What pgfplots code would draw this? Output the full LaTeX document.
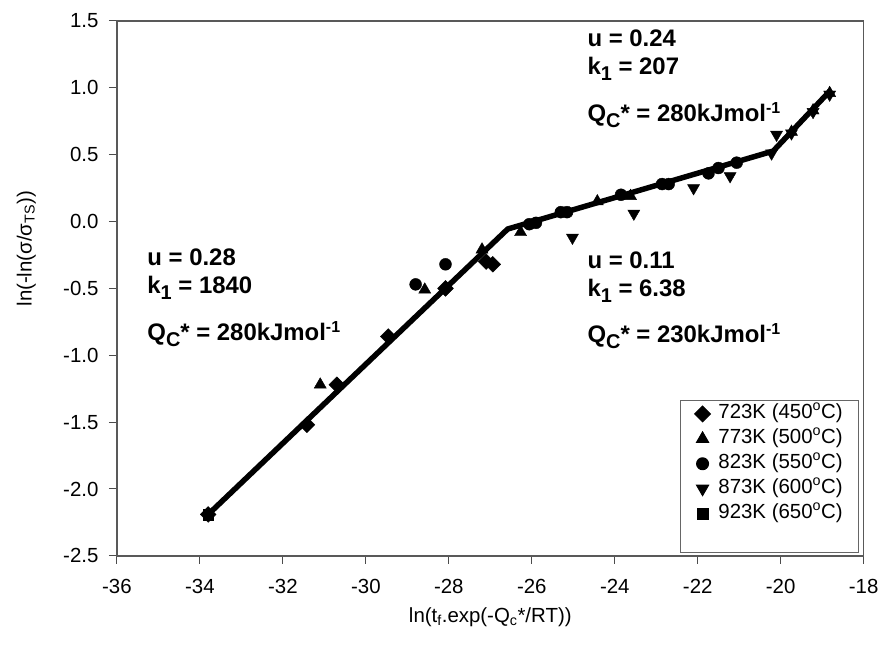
\documentclass[border=0pt]{standalone}
\usepackage{fontspec}
\setmainfont{Liberation Sans}
\usepackage{pgfplots}
\pgfplotsset{compat=1.18}
\pgfplotsset{/pgf/number format/assume math mode=true}
\newcommand{\bsub}[1]{\raisebox{-6pt}{\fontsize{20}{20}\selectfont #1}}
\newcommand{\bsup}[1]{\raisebox{8pt}{\fontsize{16}{16}\selectfont #1}}

\begin{document}
\begin{tikzpicture}
\path[use as bounding box] (-117.4pt,-93pt) rectangle (766pt,558pt);
\begin{axis}[
    at={(0pt,0pt)}, anchor=south west,
    scale only axis, width=749.6pt, height=537pt,
    xmin=-36, xmax=-18, ymin=-2.5, ymax=1.5,
    xtick={-36,-34,...,-18},
    ytick={-2.5,-2,...,1.5},
    tick pos=left, tick align=outside,
    major tick length=8pt,
    tick style={black!70, line width=1pt},
    axis line style={black!65, line width=1.3pt},
    ticklabel style={font=\fontsize{20.5}{22}\selectfont, inner sep=0pt},
    yticklabel style={/pgf/number format/.cd, fixed, fixed zerofill, precision=1,
        /tikz/.cd, xshift=-10.4pt},
    xticklabel style={/pgf/number format/.cd, fixed, /tikz/.cd, yshift=-15pt},
    xlabel={ln(t\textsubscript{f}.exp(-Q\textsubscript{c}*/RT))},
    ylabel={ln(-ln(σ/σ\textsubscript{TS}))},
    label style={font=\fontsize{20.5}{22}\selectfont},
    xlabel style={at={(axis description cs:0.5,-0.115)}, anchor=center},
    ylabel style={at={(axis description cs:-0.1214,0.574)}, anchor=center},
    legend style={at={(axis cs:-18.11,-2.478)}, anchor=south east,
        draw=black!60, line width=1pt, font=\fontsize{20.5}{22}\selectfont,
        row sep=4pt, inner xsep=14pt, inner ysep=3.5pt,
        nodes={inner sep=2pt, text height=13pt, text depth=4pt},
        /tikz/every odd column/.append style={column sep=6pt}},
    legend cell align=left,
]
% 723 K
\addplot[only marks, black, mark=square*, mark size=5.6pt, mark options={fill=black, rotate=45}]
    coordinates {(-33.80,-2.19) (-31.42,-1.52) (-30.70,-1.22) (-29.46,-0.86)
                 (-28.08,-0.50) (-26.94,-0.32) (-27.10,-0.30)};
\addlegendentry{723K (450\textsuperscript{o}C)}
% 773 K
\addplot[only marks, black, mark=triangle*, mark size=7pt, mark options={fill=black}]
    coordinates {(-31.10,-1.22) (-28.58,-0.51) (-27.20,-0.21) (-26.27,-0.08)
                 (-24.42,0.15) (-23.62,0.19) (-19.74,0.67) (-19.22,0.83) (-18.82,0.96)};
\addlegendentry{773K (500\textsuperscript{o}C)}
% 823 K
\addplot[only marks, black, mark=*, mark size=6pt, mark options={fill=black}]
    coordinates {(-28.80,-0.47) (-28.08,-0.32) (-26.06,-0.02) (-25.90,-0.01)
                 (-25.30,0.07) (-25.15,0.07) (-23.85,0.20) (-22.86,0.28) (-22.70,0.28)
                 (-21.74,0.36) (-21.50,0.40) (-21.06,0.44)};
\addlegendentry{823K (550\textsuperscript{o}C)}
% 873 K
\addplot[only marks, black, mark=triangle*, mark size=7pt, mark options={fill=black, rotate=180}]
    coordinates {(-25.02,-0.12) (-23.54,0.06) (-22.10,0.25) (-21.22,0.34)
                 (-20.22,0.51) (-20.10,0.65) (-19.74,0.66) (-19.22,0.82) (-18.82,0.95)};
\addlegendentry{873K (600\textsuperscript{o}C)}
% 923 K
\addplot[only marks, black, mark=square*, mark size=5.5pt, mark options={fill=black}]
    coordinates {(-33.80,-2.19)};
\addlegendentry{923K (650\textsuperscript{o}C)}
\addlegendimage{empty legend}
\addlegendentry{}

% fitted lines
\addplot[no marks, sharp plot, black, line width=5.5pt, forget plot]
    coordinates {(-33.80,-2.19) (-26.58,-0.056) (-20.18,0.527) (-18.82,0.974)};

\begin{scope}[every node/.style={anchor=base west, inner sep=0pt,
        font=\bfseries\fontsize{24}{26}\selectfont}]
\node at (axis cs:-35.27,-0.332) {u = 0.28};
\node at (axis cs:-35.27,-0.541) {k\bsub{1} = 1840};
\node at (axis cs:-35.27,-0.891) {Q\bsub{C}* = 280kJmol\bsup{-1}};
\node at (axis cs:-24.66,-0.355) {u = 0.11};
\node at (axis cs:-24.66,-0.563) {k\bsub{1} = 6.38};
\node at (axis cs:-24.66,-0.906) {Q\bsub{C}* = 230kJmol\bsup{-1}};
\node at (axis cs:-24.66,1.306) {u = 0.24};
\node at (axis cs:-24.66,1.098) {k\bsub{1} = 207};
\node at (axis cs:-24.66,0.750) {Q\bsub{C}* = 280kJmol\bsup{-1}};
\end{scope}
\end{axis}
\end{tikzpicture}
\end{document}
